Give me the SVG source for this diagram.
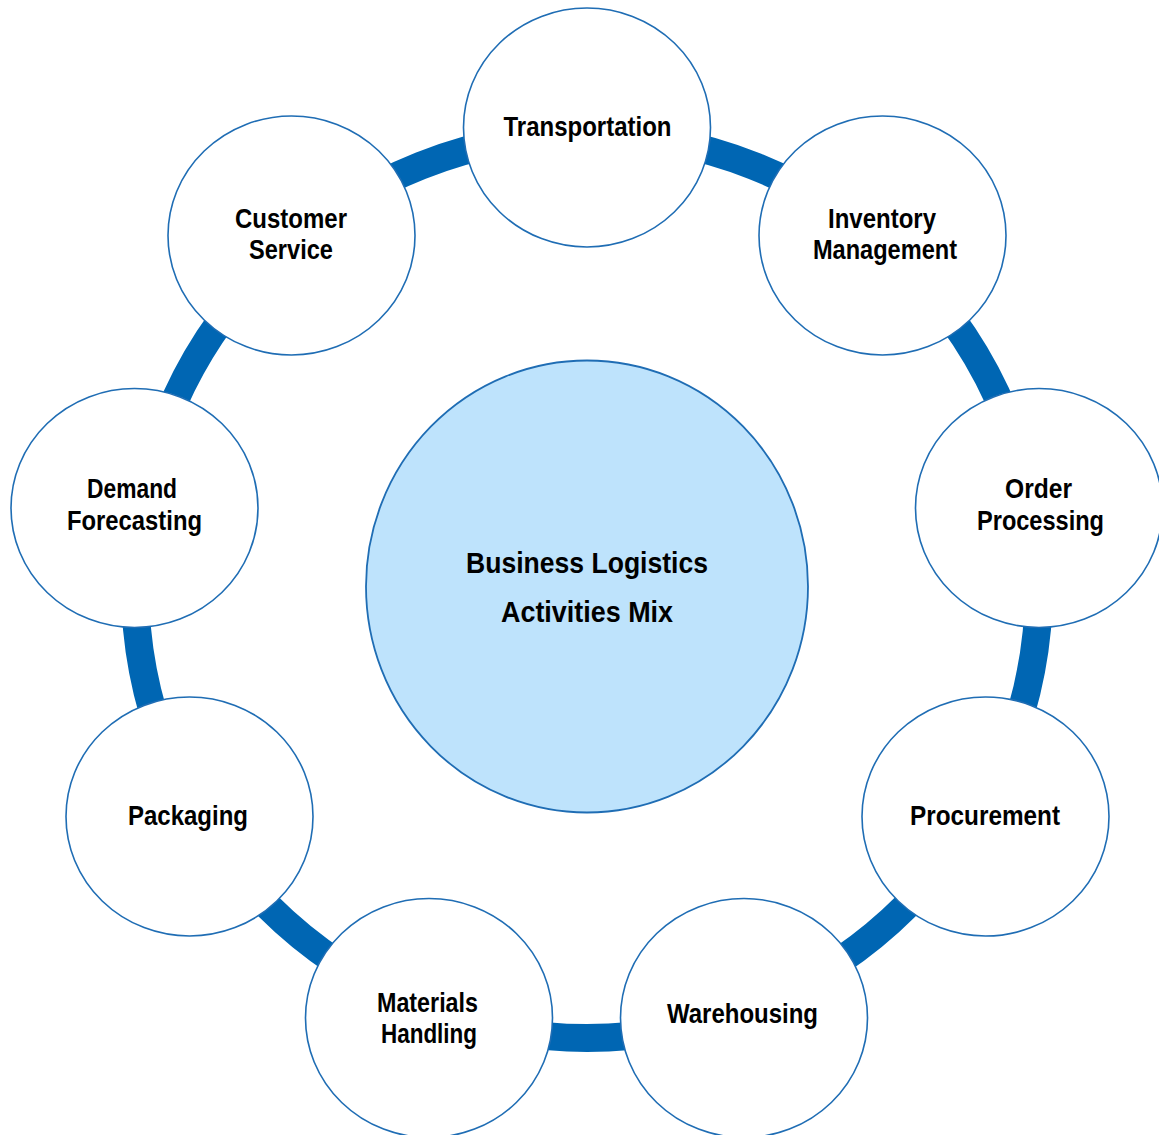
<svg xmlns="http://www.w3.org/2000/svg" width="1159" height="1135" viewBox="0 0 1159 1135">
<style>
.ring{fill:none;stroke:#0066B3;stroke-width:28}
.node{fill:#FFFFFF;stroke:#1F6DB4;stroke-width:1.6}
.hub{fill:#BEE3FC;stroke:#1F6DB4;stroke-width:1.8}
.t{font-family:"Liberation Sans",Arial,sans-serif;font-weight:bold;font-size:28px;fill:#000;text-anchor:middle}
.c{font-size:30px}
</style>
<rect width="1159" height="1135" fill="#FFFFFF"/>
<g id="connectors">
<circle class="ring" cx="587" cy="586" r="452"/>
</g>
<g id="hub">
<ellipse class="hub" cx="587" cy="586.5" rx="221" ry="226"/>
<text class="t c" x="587" y="573" textLength="242" lengthAdjust="spacingAndGlyphs">Business Logistics</text>
<text class="t c" x="587" y="622" textLength="172" lengthAdjust="spacingAndGlyphs">Activities Mix</text>
</g>
<g id="transportation">
<ellipse class="node" cx="587" cy="127.5" rx="123.5" ry="119.5"/>
<text class="t" x="587.5" y="136" textLength="168" lengthAdjust="spacingAndGlyphs">Transportation</text>
</g>
<g id="inventory-management">
<ellipse class="node" cx="882.5" cy="235.5" rx="123.5" ry="119.5"/>
<text class="t" x="882" y="228" textLength="108" lengthAdjust="spacingAndGlyphs">Inventory</text>
<text class="t" x="885" y="259" textLength="144" lengthAdjust="spacingAndGlyphs">Management</text>
</g>
<g id="order-processing">
<ellipse class="node" cx="1039" cy="508" rx="123.5" ry="119.5"/>
<text class="t" x="1038.5" y="498" textLength="67" lengthAdjust="spacingAndGlyphs">Order</text>
<text class="t" x="1040.5" y="530" textLength="127" lengthAdjust="spacingAndGlyphs">Processing</text>
</g>
<g id="procurement">
<ellipse class="node" cx="985.5" cy="816.5" rx="123.5" ry="119.5"/>
<text class="t" x="985" y="825" textLength="150" lengthAdjust="spacingAndGlyphs">Procurement</text>
</g>
<g id="warehousing">
<ellipse class="node" cx="744" cy="1018" rx="123.5" ry="119.5"/>
<text class="t" x="742.5" y="1023" textLength="151" lengthAdjust="spacingAndGlyphs">Warehousing</text>
</g>
<g id="materials-handling">
<ellipse class="node" cx="429" cy="1018" rx="123.5" ry="119.5"/>
<text class="t" x="427.5" y="1012" textLength="101" lengthAdjust="spacingAndGlyphs">Materials</text>
<text class="t" x="429" y="1043" textLength="96" lengthAdjust="spacingAndGlyphs">Handling</text>
</g>
<g id="packaging">
<ellipse class="node" cx="189.5" cy="816.5" rx="123.5" ry="119.5"/>
<text class="t" x="188" y="825" textLength="120" lengthAdjust="spacingAndGlyphs">Packaging</text>
</g>
<g id="demand-forecasting">
<ellipse class="node" cx="134.5" cy="508" rx="123.5" ry="119.5"/>
<text class="t" x="132" y="498" textLength="90" lengthAdjust="spacingAndGlyphs">Demand</text>
<text class="t" x="134.5" y="530" textLength="135" lengthAdjust="spacingAndGlyphs">Forecasting</text>
</g>
<g id="customer-service">
<ellipse class="node" cx="291.5" cy="235.5" rx="123.5" ry="119.5"/>
<text class="t" x="291" y="228" textLength="112" lengthAdjust="spacingAndGlyphs">Customer</text>
<text class="t" x="291" y="259" textLength="84" lengthAdjust="spacingAndGlyphs">Service</text>
</g>
</svg>
